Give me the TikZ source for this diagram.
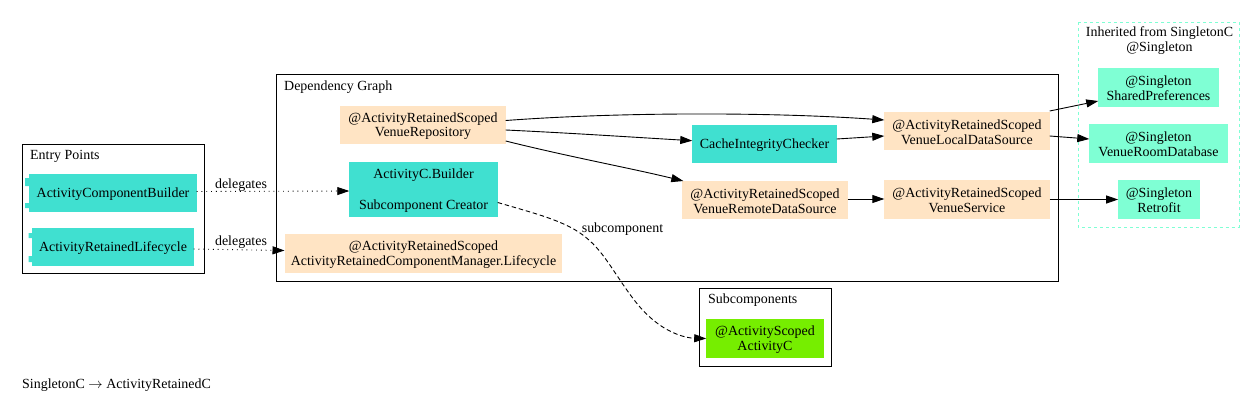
\documentclass[tikz,border=0pt]{standalone}
\usepackage{fontspec}
\setmainfont{Liberation Serif}
\usetikzlibrary{arrows.meta,calc}
\definecolor{turq}{HTML}{40E0D0}
\definecolor{bisq}{HTML}{FFE4C4}
\definecolor{aqua}{HTML}{7FFFD4}
\definecolor{lawn}{HTML}{76EE00}
\tikzset{
  box/.style={inner sep=0pt,outer sep=0pt,align=center,font=\fontsize{14}{15}\selectfont},
  scoped/.style={box,fill=bisq},
  single/.style={box,fill=aqua},
  entry/.style={box,fill=turq},
  cluster/.style={draw=black,line width=0.9pt},
  clabel/.style={inner sep=0pt,align=center,font=\fontsize{14}{15}\selectfont},
  edge/.style={draw=black,line width=0.9pt,-{Triangle[length=12bp,width=8bp]}},
  dotline/.style={edge,dash pattern=on 0.9bp off 3.9bp},
  dashline/.style={edge,dash pattern=on 4.5bp off 2.8bp},
  elabel/.style={inner sep=0pt,font=\fontsize{14}{15}\selectfont}
}
\newcommand{\nd}[7]{\node[#1,minimum width=#5-#3,minimum height=#6-#4] (#2) at ({(#3+#5)/2},{(#4+#6)/2}) {\rule{0pt}{12bp}#7};}
\begin{document}
\begin{tikzpicture}[x=1bp,y=-1bp]
\useasboundingbox[fill=white] (0,0) rectangle (1258,411);
% clusters
\draw[cluster] (22,144) rectangle (204,273);
\draw[cluster] (276,74) rectangle (1058,281);
\draw[cluster] (699,288) rectangle (831,366);
\draw[draw=aqua,line width=0.8pt,dashed] (1078,22) rectangle (1239,227);
\node[clabel,anchor=west] (lE) at (30,156) {Entry Points};
\node[clabel,anchor=west] (lD) at (284,87) {Dependency Graph};
\node[clabel,anchor=west] (lS) at (708,300) {Subcomponents};
\node[clabel] (lI) at (1159.5,40.5) {Inherited from SingletonC\\@Singleton};
% component tabs
\fill[turq] (25,178) rectangle (29,186) (25,203) rectangle (29,208);
\fill[turq] (28.5,233) rectangle (32,238) (28.5,256) rectangle (32,262);
% nodes
\nd{entry}{acb}{29}{174}{197}{212}{ActivityComponentBuilder}
\nd{entry}{arl}{32}{228}{194}{266}{ActivityRetainedLifecycle}
\nd{scoped}{repo}{340}{106}{506}{144}{@ActivityRetainedScoped\\VenueRepository}
\nd{entry}{bld}{349}{162}{498}{217}{ActivityC.Builder\\[16bp]Subcomponent Creator}
\nd{scoped}{lcy}{284}{234}{563}{273}{@ActivityRetainedScoped\\ActivityRetainedComponentManager.Lifecycle}
\nd{entry}{chk}{692}{125}{837}{163}{CacheIntegrityChecker}
\nd{scoped}{loc}{884}{112}{1050}{150}{@ActivityRetainedScoped\\VenueLocalDataSource}
\nd{scoped}{rem}{682}{181}{848}{219}{@ActivityRetainedScoped\\VenueRemoteDataSource}
\nd{scoped}{svc}{884}{180}{1050}{219}{@ActivityRetainedScoped\\VenueService}
\nd{box,fill=lawn}{act}{706}{319}{824}{358}{@ActivityScoped\\ActivityC}
\nd{single}{prf}{1098}{68}{1219}{107}{@Singleton\\SharedPreferences}
\nd{single}{dbs}{1089}{124}{1228}{163}{@Singleton\\VenueRoomDatabase}
\nd{single}{ret}{1118}{180}{1200}{219}{@Singleton\\Retrofit}
\node[clabel,anchor=west] (cap) at (22,385) {SingletonC \(\rightarrow\) ActivityRetainedC};
% edges
\draw[dotline] ($(acb.east)+(0,-1.5)$) -- ($(bld.west)+(0,1.5)$);
\draw[dotline] ($(arl.east)+(0,2)$) -- ($(lcy.west)+(0,-3)$);
\node[elabel] (d1) at (241,185) {delegates};
\node[elabel] (d2) at (241,242) {delegates};
\draw[edge] ($(repo.east)+(0,-4.5)$) .. controls (620,112) and (770,112) .. ($(loc.west)+(0,-11)$);
\draw[edge] ($(repo.east)+(0,5)$) .. controls (570,133) and (630,137) .. ($(chk.west)+(0,-3.3)$);
\draw[edge] ($(repo.east)+(0,16)$) .. controls (570,157) and (630,168) .. ($(rem.west)+(1,-19)$);
\draw[edge] ($(chk.east)+(0,-5)$) -- ($(loc.west)+(0,5)$);
\draw[edge] ($(rem.east)+(0,-1)$) -- ($(svc.west)+(0,-0.5)$);
\draw[edge] ($(loc.east)+(0,-20)$) -- ($(prf.west)+(0,13.5)$);
\draw[edge] ($(loc.east)+(0,5)$) -- ($(dbs.west)+(0,-4.5)$);
\draw[edge] (svc.east) -- (ret.west);
\draw[dashline] ($(bld.east)+(0,13)$) .. controls (530,212) and (550,217) .. (570,227) .. controls (595,240) and (605,258) .. (620,280) .. controls (636,304) and (645,314) .. (657,323) .. controls (670,333) and (685,338) .. ($(act.west)+(0,0)$);
\node[elabel] (sub) at (622.5,229) {subcomponent};
\end{tikzpicture}
\end{document}
